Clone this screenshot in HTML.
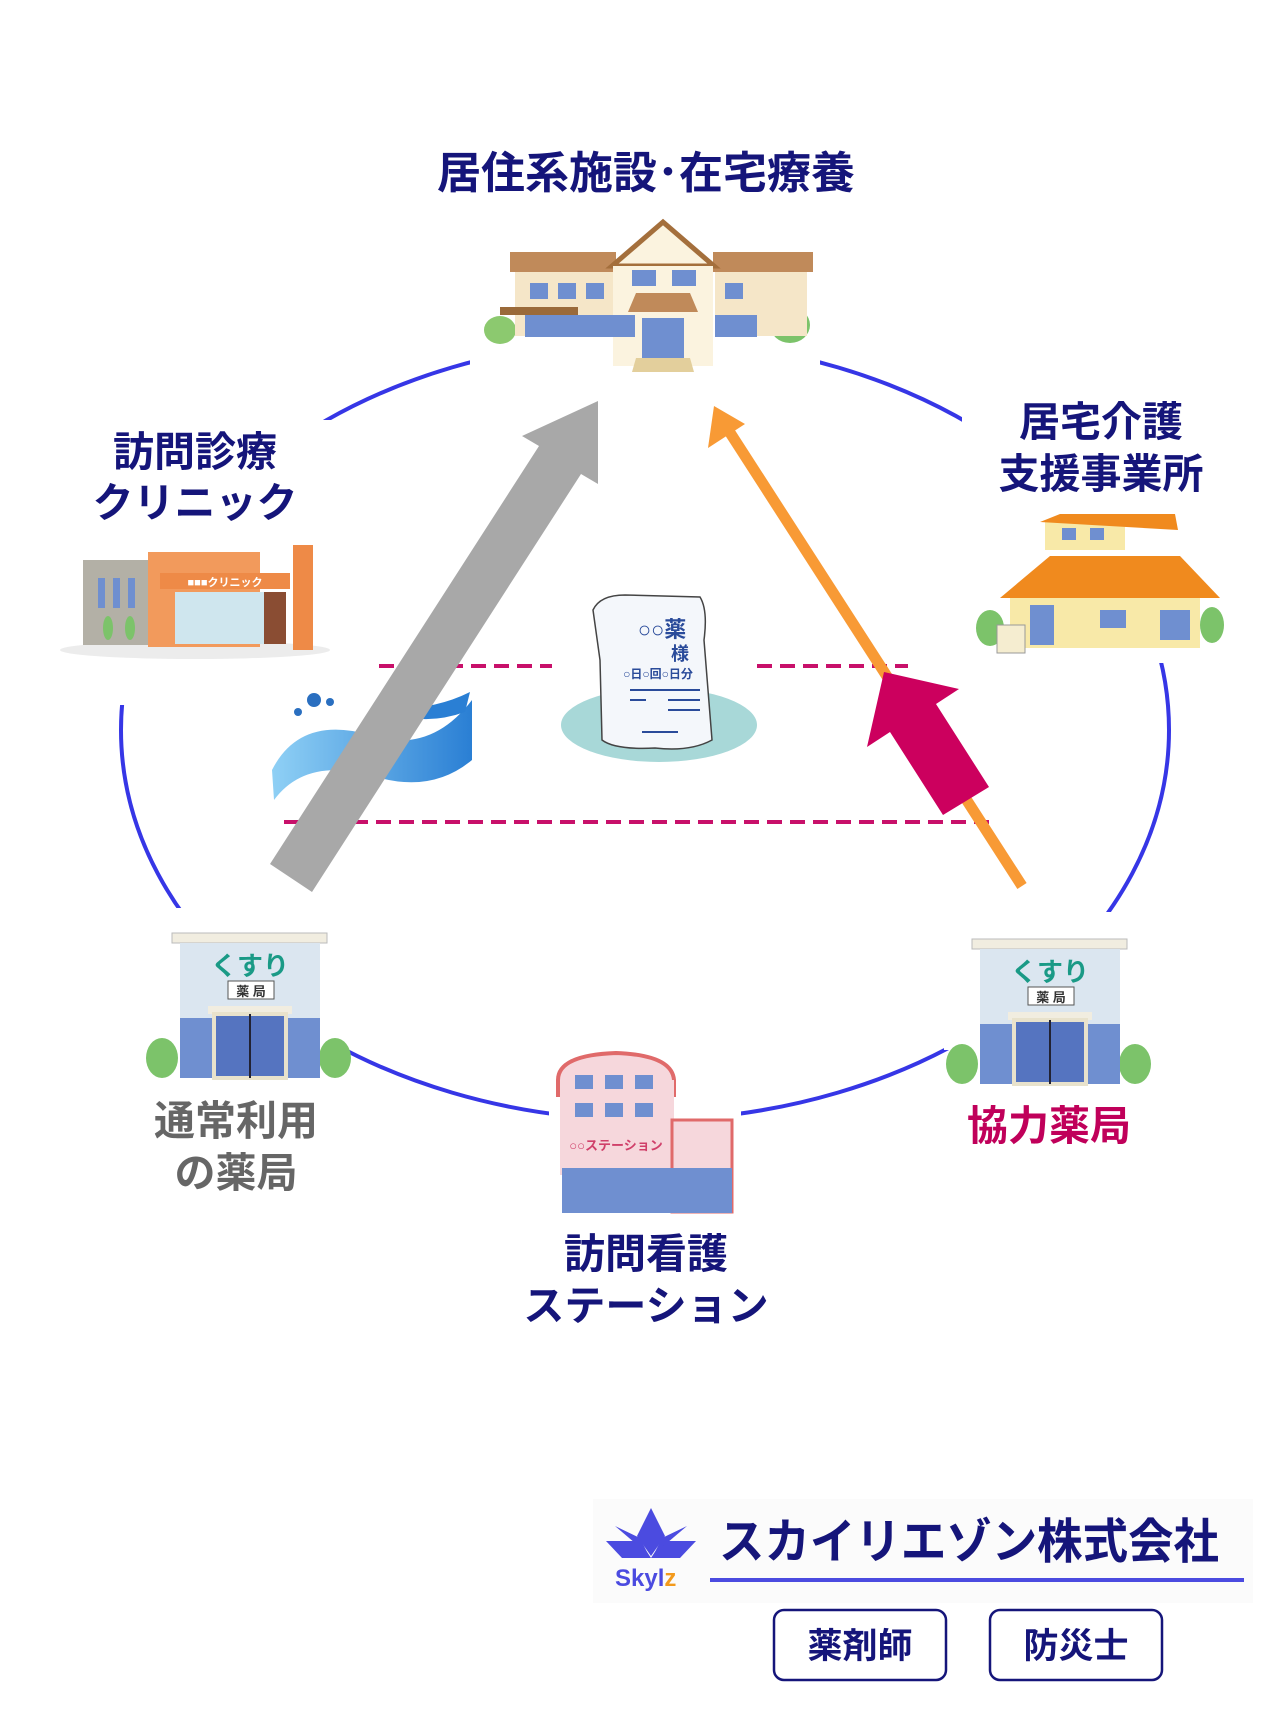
<!DOCTYPE html>
<html><head><meta charset="utf-8"><style>
html,body{margin:0;padding:0;background:#fff}
body{width:1280px;height:1707px;overflow:hidden}
text{font-family:"Liberation Sans","Noto Sans CJK JP",sans-serif;font-weight:bold}
</style></head><body>
<svg width="1280" height="1707" viewBox="0 0 1280 1707" xmlns="http://www.w3.org/2000/svg">
<defs>
<linearGradient id="wv" x1="0" y1="0" x2="1" y2="0"><stop offset="0" stop-color="#8fd0f5"/><stop offset="1" stop-color="#2a7fd4"/></linearGradient>
<g id="pharm">
 <ellipse cx="12" cy="125" rx="16" ry="20" fill="#7cc36a"/>
 <ellipse cx="185" cy="125" rx="16" ry="20" fill="#7cc36a"/>
 <rect x="22" y="0" width="155" height="10" fill="#f1ede0" stroke="#bbb"/>
 <rect x="30" y="10" width="140" height="80" fill="#dbe6f0"/>
 <text x="100" y="42" font-size="26" fill="#1a9a86" text-anchor="middle">くすり</text>
 <rect x="78" y="48" width="46" height="18" fill="#fff" stroke="#555"/>
 <text x="101" y="63" font-size="13" fill="#333" text-anchor="middle">薬 局</text>
 <rect x="30" y="85" width="140" height="60" fill="#6f8fd0"/>
 <rect x="58" y="73" width="84" height="8" fill="#f1ede0"/>
 <rect x="64" y="81" width="72" height="64" fill="#5574c0" stroke="#e8e2cc" stroke-width="4"/>
 <line x1="100" y1="81" x2="100" y2="145" stroke="#223" stroke-width="2"/>
</g>
</defs>

<ellipse cx="645" cy="730" rx="524" ry="390" fill="none" stroke="#3636e6" stroke-width="4"/>
<g fill="#fff">
 <rect x="470" y="290" width="350" height="95"/>
 <rect x="30" y="420" width="310" height="285"/>
 <rect x="962" y="395" width="300" height="268"/>
 <rect x="110" y="908" width="236" height="142"/>
 <rect x="549" y="1040" width="192" height="200"/>
 <rect x="944" y="912" width="240" height="138"/>
</g>

<text x="646" y="188" font-size="44" fill="#15157a" text-anchor="middle">居住系施設･在宅療養</text>
<text x="195" y="466" font-size="41" fill="#15157a" text-anchor="middle">訪問診療</text>
<text x="195" y="517" font-size="41" fill="#15157a" text-anchor="middle">クリニック</text>
<text x="1101" y="436" font-size="41" fill="#15157a" text-anchor="middle">居宅介護</text>
<text x="1101" y="488" font-size="41" fill="#15157a" text-anchor="middle">支援事業所</text>
<text x="236" y="1135" font-size="41" fill="#666" text-anchor="middle">通常利用</text>
<text x="236" y="1187" font-size="41" fill="#666" text-anchor="middle">の薬局</text>
<text x="1049" y="1140" font-size="41" fill="#c0005a" text-anchor="middle">協力薬局</text>
<text x="646" y="1268" font-size="41" fill="#15157a" text-anchor="middle">訪問看護</text>
<text x="646" y="1320" font-size="41" fill="#15157a" text-anchor="middle">ステーション</text>

<!-- top building -->
<g>
 <ellipse cx="500" cy="330" rx="16" ry="14" fill="#8cc96f"/>
 <ellipse cx="790" cy="325" rx="20" ry="18" fill="#7cc36a"/>
 <rect x="510" y="252" width="106" height="20" fill="#c08a5a"/>
 <rect x="515" y="272" width="102" height="64" fill="#f5e6c8"/>
 <rect x="713" y="252" width="100" height="20" fill="#c08a5a"/>
 <rect x="715" y="272" width="92" height="64" fill="#f5e6c8"/>
 <polygon points="612,266 663,222 714,266" fill="#fbf3df" stroke="#a46f3c" stroke-width="5"/>
 <rect x="613" y="266" width="100" height="100" fill="#fbf3df"/>
 <g fill="#6f8fd0">
  <rect x="530" y="283" width="18" height="16"/><rect x="558" y="283" width="18" height="16"/><rect x="586" y="283" width="18" height="16"/>
  <rect x="632" y="270" width="24" height="16"/><rect x="672" y="270" width="24" height="16"/>
  <rect x="725" y="283" width="18" height="16"/>
  <rect x="525" y="315" width="110" height="22"/><rect x="715" y="315" width="42" height="22"/>
 </g>
 <rect x="500" y="307" width="78" height="8" fill="#9a6a3a"/>
 <polygon points="628,312 636,293 690,293 698,312" fill="#c08a5a"/>
 <rect x="642" y="318" width="42" height="40" fill="#6f8fd0"/>
 <polygon points="632,372 636,358 690,358 694,372" fill="#e3cf9c"/>
</g>

<!-- clinic -->
<g>
 <ellipse cx="195" cy="650" rx="135" ry="9" fill="#ececec"/>
 <rect x="83" y="560" width="70" height="85" fill="#b3b0a6"/>
 <g fill="#6f8fd0"><rect x="98" y="578" width="7" height="30"/><rect x="113" y="578" width="7" height="30"/><rect x="128" y="578" width="7" height="30"/></g>
 <rect x="148" y="552" width="112" height="95" fill="#f29a5c"/>
 <rect x="160" y="573" width="130" height="16" fill="#ee8a47"/>
 <text x="225" y="586" font-size="11" fill="#fff" text-anchor="middle">■■■クリニック</text>
 <rect x="175" y="592" width="90" height="52" fill="#cfe6ee"/>
 <rect x="264" y="592" width="22" height="52" fill="#8a4d33"/>
 <rect x="293" y="545" width="20" height="105" fill="#ee8a47"/>
 <ellipse cx="108" cy="628" rx="5" ry="12" fill="#7cc36a"/>
 <ellipse cx="130" cy="628" rx="5" ry="12" fill="#7cc36a"/>
</g>

<!-- house right -->
<g>
 <ellipse cx="990" cy="628" rx="14" ry="18" fill="#7cc36a"/>
 <ellipse cx="1212" cy="625" rx="12" ry="18" fill="#7cc36a"/>
 <rect x="1045" y="520" width="80" height="30" fill="#f8e9a8"/>
 <polygon points="1040,522 1060,514 1175,514 1178,530" fill="#f08a1e"/>
 <polygon points="1000,598 1050,556 1180,556 1220,598" fill="#f08a1e"/>
 <rect x="1010" y="598" width="190" height="50" fill="#f8e9a8"/>
 <g fill="#6f8fd0"><rect x="1062" y="528" width="14" height="12"/><rect x="1090" y="528" width="14" height="12"/>
 <rect x="1030" y="605" width="24" height="40"/><rect x="1100" y="610" width="26" height="18"/><rect x="1160" y="610" width="30" height="30"/></g>
 <rect x="997" y="625" width="28" height="28" fill="#f5edd0" stroke="#999"/>
</g>

<g transform="translate(150,933)"><use href="#pharm"/></g>
<g transform="translate(950,939)"><use href="#pharm"/></g>

<!-- station -->
<g>
 <path d="M558,1095 V1080 Q558,1055 616,1053 Q672,1055 674,1080 V1095 Z" fill="#f6d7dc" stroke="#e06a6a" stroke-width="4"/>
 <rect x="560" y="1080" width="114" height="95" fill="#f6d7dc"/>
 <g fill="#6f8fd0"><rect x="575" y="1075" width="18" height="14"/><rect x="605" y="1075" width="18" height="14"/><rect x="635" y="1075" width="18" height="14"/>
 <rect x="575" y="1103" width="18" height="14"/><rect x="605" y="1103" width="18" height="14"/><rect x="635" y="1103" width="18" height="14"/></g>
 <rect x="672" y="1120" width="60" height="92" fill="#f6d7dc" stroke="#e06a6a" stroke-width="3"/>
 <text x="616" y="1150" font-size="13" fill="#d0406a" text-anchor="middle">○○ステーション</text>
 <rect x="562" y="1168" width="170" height="45" fill="#6f8fd0"/>
</g>

<g stroke="#c8106a" stroke-width="4" stroke-dasharray="15,8">
 <line x1="379" y1="666" x2="552" y2="666"/>
 <line x1="757" y1="666" x2="908" y2="666"/>
 <line x1="284" y1="822" x2="996" y2="822"/>
</g>

<!-- wave -->
<g>
 <circle cx="314" cy="700" r="7" fill="#2a6fc0"/><circle cx="330" cy="702" r="4" fill="#2a6fc0"/><circle cx="298" cy="712" r="4" fill="#2a6fc0"/>
 <path d="M272,770 Q300,715 370,735 Q430,755 472,700 L472,760 Q430,795 370,775 Q305,758 274,800 Z" fill="url(#wv)"/>
 <path d="M380,708 Q430,712 470,692 L465,712 Q420,728 380,708 Z" fill="#2a7fd4"/>
</g>

<!-- gray arrow -->
<polygon points="270,864 539,446 522,436 598,401 598,484 581,474 312,892" fill="#a8a8a8"/>

<!-- medicine bag -->
<ellipse cx="659" cy="725" rx="98" ry="37" fill="#a8d8d8"/>
<path d="M593,610 Q600,595 625,595 L700,597 Q708,610 704,640 L712,740 Q690,752 655,748 Q615,750 602,740 L600,660 Z" fill="#f4f7fb" stroke="#444" stroke-width="1.5"/>
<text x="662" y="637" font-size="22" fill="#2a4b9a" text-anchor="middle" font-weight="normal">○○薬</text>
<text x="680" y="660" font-size="18" fill="#2a4b9a" text-anchor="middle" font-weight="normal">様</text>
<text x="658" y="678" font-size="12" fill="#2a4b9a" text-anchor="middle" font-weight="normal">○日○回○日分</text>
<g stroke="#2a4b9a" stroke-width="2"><line x1="630" y1="690" x2="700" y2="690"/><line x1="630" y1="700" x2="646" y2="700"/><line x1="668" y1="700" x2="700" y2="700"/><line x1="668" y1="710" x2="700" y2="710"/><line x1="642" y1="732" x2="678" y2="732"/></g>

<!-- orange arrow -->
<line x1="1022" y1="886" x2="727" y2="428" stroke="#f89a35" stroke-width="11"/>
<polygon points="714,406 708,448 745,424" fill="#f89a35"/>

<!-- magenta arrow -->
<polygon points="943,815 890,732 867,747 884,672 959,689 936,704 989,787" fill="#cc005e"/>

<!-- logo -->
<rect x="593" y="1499" width="660" height="104" fill="#fbfbfb"/>
<g fill="#4b4be0">
 <polygon points="651,1508 665,1536 651,1556 637,1536"/>
 <polygon points="606,1541 640,1541 651,1558 622,1558"/>
 <polygon points="696,1541 662,1541 651,1558 680,1558"/>
 <polygon points="615,1526 640,1538 648,1554"/>
 <polygon points="687,1526 662,1538 654,1554"/>
</g>
<text x="615" y="1586" font-size="24" fill="#4b4be0">Skyl<tspan fill="#f39a1c">z</tspan></text>
<text x="719" y="1558" font-size="48" fill="#15157a" font-weight="normal" textLength="500" lengthAdjust="spacingAndGlyphs">スカイリエゾン株式会社</text>
<rect x="710" y="1578" width="534" height="4" fill="#4b4be0"/>
<rect x="774" y="1610" width="172" height="70" rx="10" fill="#fff" stroke="#15157a" stroke-width="2.5"/>
<rect x="990" y="1610" width="172" height="70" rx="10" fill="#fff" stroke="#15157a" stroke-width="2.5"/>
<text x="860" y="1658" font-size="35" fill="#15157a" text-anchor="middle" font-weight="normal">薬剤師</text>
<text x="1076" y="1658" font-size="35" fill="#15157a" text-anchor="middle" font-weight="normal">防災士</text>
</svg>
</body></html>
